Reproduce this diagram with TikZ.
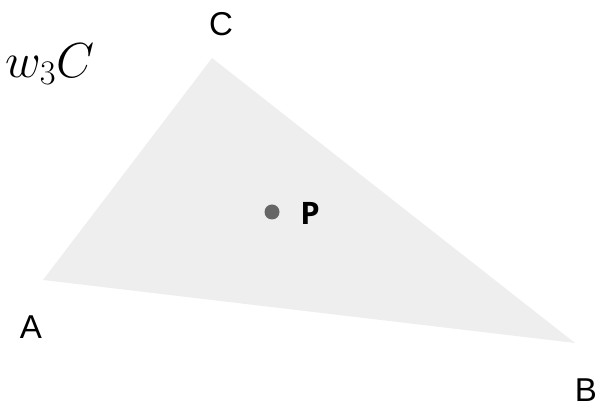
\RequirePackage{fix-cm}
\documentclass[tikz,border=0pt]{standalone}
\usepackage{fontspec}
\setsansfont{Liberation Sans}
\newfontfamily\pfont{Open Sans}
\usetikzlibrary{positioning}
\definecolor{tri}{HTML}{EEEEEE}
\definecolor{dot}{HTML}{666666}

\begin{document}
\begin{tikzpicture}[
  x=0.025cm, y=-0.025cm,
  vlbl/.style={font=\sffamily\fontsize{23.5}{23.5}\selectfont, inner sep=0pt},
  plbl/.style={font=\pfont\bfseries\fontsize{22}{22}\selectfont, inner sep=0pt},
]
\useasboundingbox (0,0) rectangle (600,411);
% corners of the triangle
\coordinate (a) at (43,280);
\coordinate (b) at (575,343);
\coordinate (c) at (212,58);
\fill[tri] (a) -- (b) -- (c) -- cycle;
% point inside
\fill[dot] (272,212) circle (7.5) coordinate (p);
\node[plbl, right=20pt of p, yshift=-1pt] (plabel) {P};
% labels
\node[vlbl] (alabel) at (31,327) {A};
\node[vlbl] (blabel) at (586,390) {B};
\node[vlbl] (clabel) at (221,24) {C};
\node[inner sep=0pt, font=\fontsize{35}{35}\selectfont] (wlabel) at (50,64) {$w_3C$};
\end{tikzpicture}
\end{document}
